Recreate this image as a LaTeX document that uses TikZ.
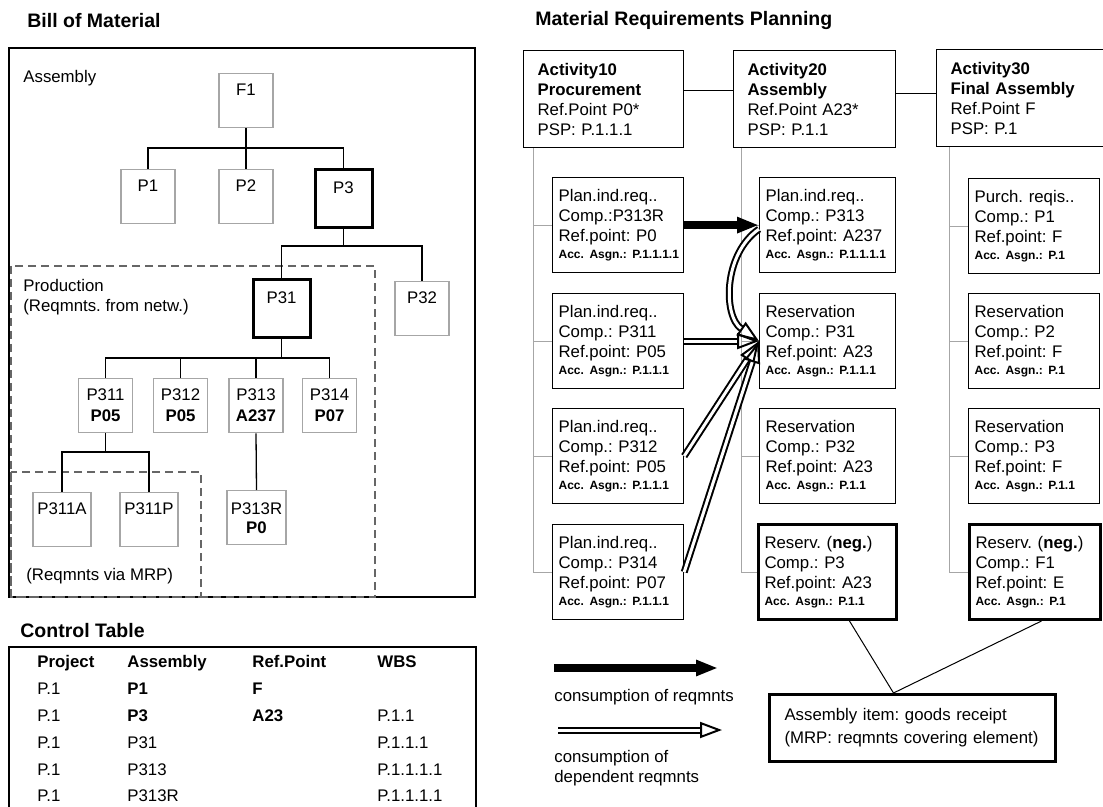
\documentclass[tikz,border=0pt]{standalone}
\usepackage{fontspec}
\setmainfont{Liberation Sans}
\usetikzlibrary{arrows.meta}
\frenchspacing

\newcommand{\accasgn}[1]{\mbox{\fontsize{6}{8}\selectfont\bfseries Acc. Asgn.: #1}}

\tikzset{
  part/.style={draw=gray!70, line width=.7pt, anchor=north, inner sep=0pt,
    minimum width=27pt, minimum height=27pt, text height=11pt, text depth=16pt, align=center},
  twopart/.style={part, text height=21.5pt, text depth=5.5pt},
  mainpart/.style={part, draw=black, line width=1.5pt, minimum width=28.5pt, minimum height=29pt},
  tree/.style={line width=.65pt},
  zone/.style={draw=gray!80!black, line width=.6pt, dash pattern=on 4pt off 2.5pt},
  activity/.style={draw, line width=.6pt, anchor=north west, inner xsep=7pt, inner ysep=0pt,
    minimum height=48.5pt, align=left},
  item/.style={draw, line width=.6pt, anchor=north west, inner xsep=3pt, inner ysep=0pt,
    text width=59.5pt, minimum height=47.5pt, align=left},
  negitem/.style={item, line width=1.5pt},
  link/.style={draw=gray!70, line width=.5pt},
  reqarrow/.style={line width=3.6pt, -{Triangle[length=11pt, width=7.5pt]}},
  deparrow/.style={double, double distance=1.5pt, line width=1pt, -{Triangle[open, length=11pt, width=8pt]}},
  txt/.style={anchor=west, inner sep=0pt, text height=6pt, text depth=1.7pt},
  title/.style={anchor=west, inner sep=0pt, font=\fontsize{9.75}{12}\selectfont\bfseries},
}

\begin{document}
\begin{tikzpicture}[x=0.5pt, y=-0.5pt, font=\fontsize{8.4}{10}\selectfont]
\useasboundingbox (0,0) rectangle (1103,807);

\node[title] (bomtitle) at (27,21) {Bill of Material};
\node[title] (mrptitle) at (535,21) {Material Requirements Planning};
\node[title] (ctltitle) at (20,631) {Control Table};

% bill of material
\draw[line width=.75pt] (9,48) rectangle (475,597);
\draw[zone] (11,266) rectangle (375,597);
\draw[zone] (11,472) rectangle (201,597);
\node[txt] (asmlbl) at (23,78) {Assembly};
\node[anchor=west, inner sep=0pt, align=left] (prodlbl) at (23,297) {Production\\(Reqmnts. from netw.)};
\node[txt] (mrplbl) at (26,576) {(Reqmnts via MRP)};

\node[part] (f1) at (246,73) {F1};
\node[part] (bp1) at (148,169) {P1};
\node[part] (bp2) at (246,169) {P2};
\node[mainpart] (bp3) at (343.5,168) {P3};
\node[mainpart] (bp31) at (281.5,278) {P31};
\node[part] (bp32) at (422,281) {P32};
\node[twopart] (bp311) at (105.5,378) {P311\\[.5pt]\textbf{P05}};
\node[twopart] (bp312) at (180.5,378) {P312\\[.5pt]\textbf{P05}};
\node[twopart] (bp313) at (256,378) {P313\\[.5pt]\textbf{A237}};
\node[twopart] (bp314) at (329.5,378) {P314\\[.5pt]\textbf{P07}};
\node[part, minimum width=29pt] (bp311a) at (62,492) {P311A};
\node[part, minimum width=29pt] (bp311p) at (149,492) {P311P};
\node[twopart, minimum width=29.5pt] (bp313r) at (256.5,490) {P313R\\[-.5pt]\textbf{P0}};

\coordinate (bus1) at (246,148);
\coordinate (bus2) at (343.5,246);
\coordinate (bus3) at (281.5,358);
\coordinate (bus4) at (105.5,452);
\draw[tree] (f1.south) -- (bus1);
\draw[tree] (bp1.north) |- (bus1) -| (bp3.north);
\draw[tree] (bp2.north) -- (bus1);
\draw[tree] (bp3.south) -- (bus2);
\draw[tree] (bp31.north) |- (bus2) -| (bp32.north);
\draw[tree] (bp31.south) -- (bus3);
\draw[tree] (bp311.north) |- (bus3) -| (bp314.north);
\draw[tree] (bp312.north) -- (bp312.north |- bus3);
\draw[tree] (bp313.north) -- (bp313.north |- bus3);
\draw[tree] (bp311.south) -- (bus4);
\draw[tree] (bp311a.north) |- (bus4) -| (bp311p.north);
\draw[tree] (bp313.south) -- (bp313r.north);

% control table
\draw[line width=.75pt] (9,647) rectangle (476,830);
\foreach \ry/\cA/\cB/\cC/\cD [count=\i] in {
  663/\textbf{Project}/\textbf{Assembly}/\textbf{Ref.Point}/\textbf{WBS},
  690/P.1/\textbf{P1}/\textbf{F}/{},
  717/P.1/\textbf{P3}/\textbf{A23}/P.1.1,
  744/P.1/P31/{}/P.1.1.1,
  771/P.1/P313/{}/P.1.1.1.1,
  797/P.1/P313R/{}/P.1.1.1.1}
{
  \node[txt] (prj\i) at (37,\ry) {\cA};
  \node[txt] (asy\i) at (127,\ry) {\cB};
  \node[txt] (rfp\i) at (252,\ry) {\cC};
  \node[txt] (wbs\i) at (377,\ry) {\cD};
}

% material requirements planning
\node[activity, text width=66pt] (act10) at (523,50)
  {\textbf{Activity10}\\\textbf{Procurement}\\Ref.Point P0*\\PSP: P.1.1.1};
\node[activity, text width=67pt] (act20) at (733,50)
  {\textbf{Activity20}\\\textbf{Assembly}\\Ref.Point A23*\\PSP: P.1.1};
\node[activity, text width=73pt] (act30) at (936,49)
  {\textbf{Activity30}\\\textbf{Final Assembly}\\Ref.Point F\\PSP: P.1};
\draw[line width=.6pt] (act10.6) -- (act20.west |- act10.6);
\draw[line width=.6pt] (act20.4) -- (act30.west |- act20.4);

\node[item] (proc1) at (552,177) {Plan.ind.req..\\Comp.:P313R\\Ref.point: P0\\[-1.5pt]\accasgn{P.1.1.1.1}};
\node[item] (proc2) at (552,293) {Plan.ind.req..\\Comp.: P311\\Ref.point: P05\\[-1.5pt]\accasgn{P.1.1.1}};
\node[item] (proc3) at (552,408) {Plan.ind.req..\\Comp.: P312\\Ref.point: P05\\[-1.5pt]\accasgn{P.1.1.1}};
\node[item] (proc4) at (552,524) {Plan.ind.req..\\Comp.: P314\\Ref.point: P07\\[-1.5pt]\accasgn{P.1.1.1}};

\node[item, text width=62pt] (asm1) at (759,177) {Plan.ind.req..\\Comp.: P313\\Ref.point: A237\\[-1.5pt]\accasgn{P.1.1.1.1}};
\node[item, text width=62pt] (asm2) at (759,293) {Reservation\\Comp.: P31\\Ref.point: A23\\[-1.5pt]\accasgn{P.1.1.1}};
\node[item, text width=62pt] (asm3) at (759,408) {Reservation\\Comp.: P32\\Ref.point: A23\\[-1.5pt]\accasgn{P.1.1}};
\node[negitem, text width=63pt] (asm4) at (757,523) {Reserv. (\textbf{neg.})\\Comp.: P3\\Ref.point: A23\\[-1.5pt]\accasgn{P.1.1}};

\node[item] (fin1) at (968,178) {Purch. reqis..\\Comp.: P1\\Ref.point: F\\[-1.5pt]\accasgn{P.1}};
\node[item] (fin2) at (968,293) {Reservation\\Comp.: P2\\Ref.point: F\\[-1.5pt]\accasgn{P.1}};
\node[item] (fin3) at (968,408) {Reservation\\Comp.: P3\\Ref.point: F\\[-1.5pt]\accasgn{P.1.1}};
\node[negitem] (fin4) at (968,523) {Reserv. (\textbf{neg.})\\Comp.: F1\\Ref.point: E\\[-1.5pt]\accasgn{P.1}};

\draw[link] ([xshift=5pt]act10.south west) |- (proc4.west);
\draw[link] ([xshift=4pt]act20.south west) |- (asm4.west);
\draw[link] ([xshift=6.5pt]act30.south west) |- (fin4.west);
\foreach \n in {1,2,3} {
  \draw[link] ([xshift=5pt]act10.south west |- proc\n.west) -- (proc\n.west);
  \draw[link] ([xshift=4pt]act20.south west |- asm\n.west) -- (asm\n.west);
  \draw[link] ([xshift=6.5pt]act30.south west |- fin\n.west) -- (fin\n.west);
}

\draw[reqarrow] (proc1.east) -- (asm1.west);
\draw[deparrow] (proc2.east) -- (asm2.west);
\draw[deparrow] (proc3.east) -- (asm2.west);
\draw[deparrow] (proc4.east) -- (asm2.west);
\draw[deparrow] ([yshift=-2pt]asm1.west) .. controls +(-36,25) and +(-36,-25) .. (asm2.west);

% legend
\coordinate (leg1s) at (554,668);
\coordinate (leg1e) at (718,668);
\coordinate (leg2s) at (558,730);
\coordinate (leg2e) at (722,730);
\draw[reqarrow] (leg1s) -- (leg1e);
\draw[deparrow] (leg2s) -- (leg2e);
\node[txt] (leg1txt) at (554,697) {consumption of reqmnts};
\node[anchor=west, inner sep=0pt, align=left] (leg2txt) at (554,768) {consumption of\\dependent reqmnts};

\node[draw, line width=1.5pt, anchor=north west, inner xsep=7.5pt, text width=128pt,
  minimum height=33.5pt, align=left] (gr) at (768,693)
  {Assembly item: goods receipt\\[1.5pt](MRP: reqmnts covering element)};
\draw[line width=.5pt] ([xshift=11pt]asm4.south) -- ([xshift=-9.5pt]gr.north);
\draw[line width=.5pt] ([xshift=3.25pt]fin4.south) -- ([xshift=-9.5pt]gr.north);
\end{tikzpicture}
\end{document}
